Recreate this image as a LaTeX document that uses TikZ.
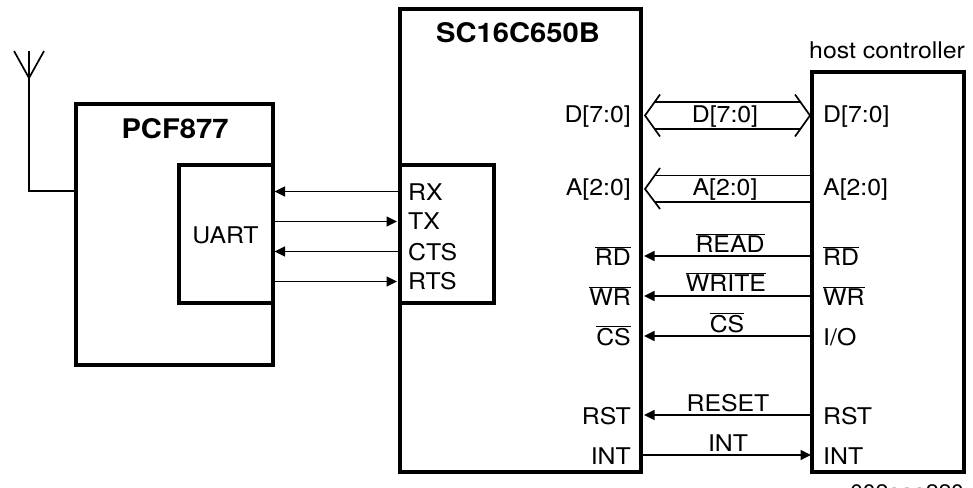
\documentclass[tikz,border=0pt]{standalone}
\usepackage{fontspec}
\setmainfont[FakeStretch=1.08]{TeX Gyre Heros}
\usetikzlibrary{arrows.meta}
\newcommand{\ovl}[1]{$\overline{\mbox{#1}}$}
\begin{document}
\begin{tikzpicture}[
  x=1pt,y=-1pt,
  chip/.style={draw,line width=3.4pt,line cap=rect,line join=miter},
  pin/.style={inner sep=0pt,font=\fontsize{23}{25}\selectfont},
  title/.style={inner sep=0pt,anchor=base,font=\fontsize{27}{29}\selectfont\bfseries},
  wire/.style={line width=1.7pt},
  arrow/.style={wire,-{Triangle[length=10.5pt,width=10pt]}},
  bus/.style={line width=1.7pt}
]
  \useasboundingbox (0,0) rectangle (973,487);
  % boxes
  \draw[chip] (76,104) rectangle (273,365);
  \draw[chip] (179,165) rectangle (273,303);
  \draw[chip] (400,9) rectangle (641,472);
  \draw[chip] (400,165) rectangle (494,303);
  \draw[chip] (812,72) rectangle (964,472);
  \coordinate (pcfw) at (76,191);
  \coordinate (aerial) at (29,51);
  \coordinate (foot) at (29,78);
  % antenna
  \draw[wire] (pcfw) -| (aerial);
  \draw[wire] (14,51) -- (foot) -- (44,51);
  \node[title] (pcfname) at (175,138) {PCF877};
  \node[title] (scname) at (518,42.5) {SC16C650B};
  \node[pin,anchor=base west] (hostname) at (809,59) {host controller};
  \node[pin,anchor=base] (uart) at (225.5,243) {UART};
  % left pins
  \foreach \name/\y/\txt in {rx/200.5/RX,tx/229/TX,cts/260.5/CTS,rts/289/RTS}
    \node[pin,anchor=base west] (\name) at (408,\y) {\txt};
  \draw[arrow] (398,191.5) -- (274.5,191.5);
  \draw[arrow] (273,221.5) -- (397,221.5);
  \draw[arrow] (398,251.5) -- (274.5,251.5);
  \draw[arrow] (273,281.5) -- (397,281.5);
  % pins on SC16C650B
  \foreach \name/\y/\txt in {dl/122/D[7:0],al/195/A[2:0],rdl/265/\ovl{RD},wrl/305/\ovl{WR},csl/345/\ovl{CS},rstl/424/RST,intl/464/INT}
    \node[pin,anchor=base east] (\name) at (631,\y) {\txt};
  % pins on host
  \foreach \name/\y/\txt in {dr/122/D[7:0],ar/195/A[2:0],rdr/265/\ovl{RD},wrr/305/\ovl{WR},ior/345/{I/O},rstr/424/RST,intr/464/INT}
    \node[pin,anchor=base west] (\name) at (823,\y) {\txt};
  % buses
  \draw[bus] (660,94.5) -- (645,115.5) -- (660,136.5);
  \draw[bus] (795,94.5) -- (810,115.5) -- (795,136.5);
  \draw[bus] (655,102) -- (800,102);
  \draw[bus] (655,129) -- (800,129);
  \draw[bus] (660,168) -- (645,189) -- (660,209);
  \draw[bus] (655,175.5) -- (812,175.5);
  \draw[bus] (655,202) -- (812,202);
  \node[pin,anchor=base] (dbus) at (725,122) {D[7:0]};
  \node[pin,anchor=base] (abus) at (725,195) {A[2:0]};
  % control lines
  \foreach \y/\lab/\txt/\xx/\yy in {256/read/\ovl{READ}/730/252,296/write/\ovl{WRITE}/726/291,336/csb/\ovl{CS}/727/332,415/reset/RESET/728/411}{
    \draw[arrow] (812,\y) -- (644,\y);
    \node[pin,anchor=base] (\lab) at (\xx,\yy) {\txt};
  }
  \draw[arrow] (641,455) -- (811,455);
  \node[pin,anchor=base] (intb) at (728,451) {INT};
  \node[pin,anchor=base east,font=\fontsize{21}{24}\selectfont] (code) at (964,499.5) {002aaa220};
\end{tikzpicture}
\end{document}
